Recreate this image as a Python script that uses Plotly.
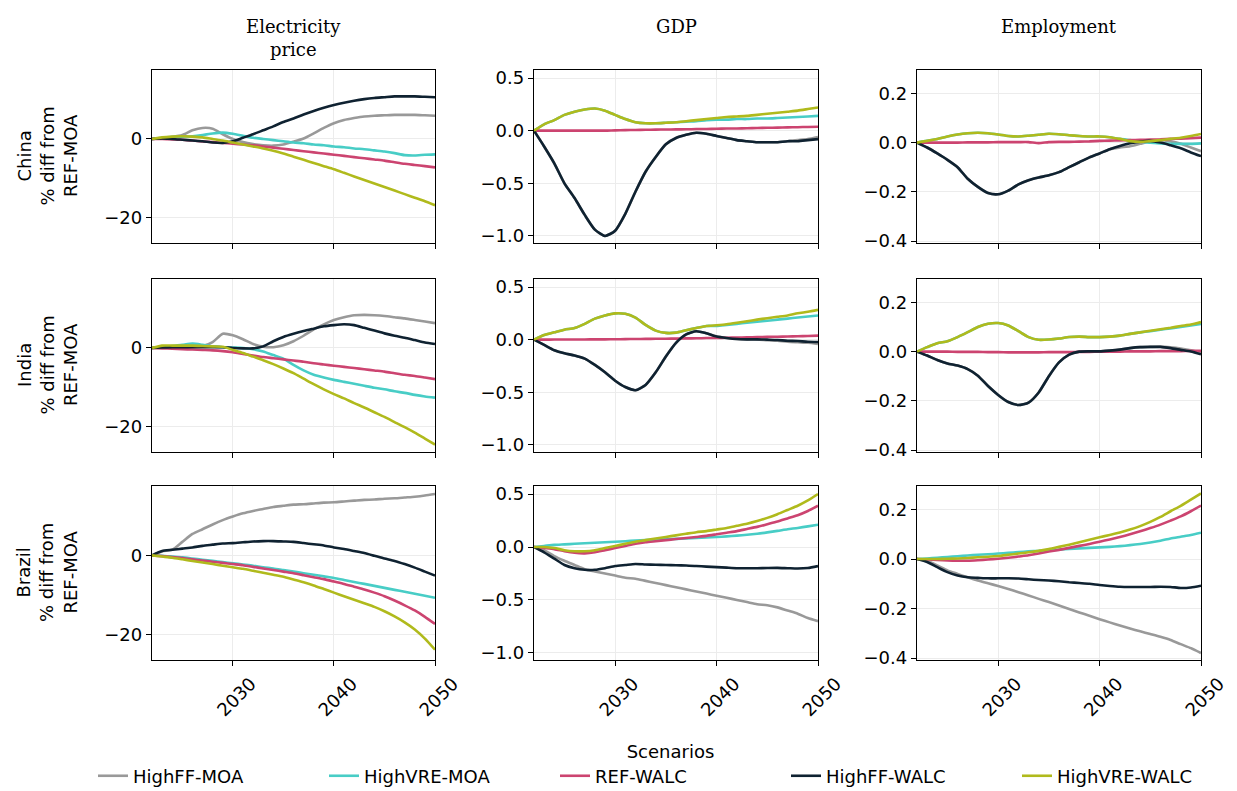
import plotly.graph_objects as go

YEARS = list(range(2022, 2051))
SCENARIOS = ["HighFF-MOA", "HighVRE-MOA", "REF-WALC", "HighFF-WALC", "HighVRE-WALC"]
COLORS = {"HighFF-MOA": "#999999", "HighVRE-MOA": "#48cdc6", "REF-WALC": "#cc4470",
          "HighFF-WALC": "#0f2231", "HighVRE-WALC": "#b0ba1c"}
REGIONS = ["China", "India", "Brazil"]
METRICS = ["Electricity<br>price", "GDP", "Employment"]

# ---------------- China ----------------
china_price = {
    "HighFF-MOA": [0, 0.2, 0.5, 1.0, 2.2, 2.8, 2.6, 1.2, 0.0, -0.8, -1.3, -1.6, -1.7, -1.4, -0.7, 0.1, 1.4, 2.8, 4.0, 4.8, 5.3, 5.7, 5.9, 6.0, 6.1, 6.1, 6.1, 6.0, 5.9],
    "HighVRE-MOA": [0, 0.3, 0.5, 0.6, 0.7, 1.0, 1.4, 1.6, 1.3, 0.8, 0.3, 0.0, -0.3, -0.6, -0.9, -1.1, -1.4, -1.6, -1.9, -2.1, -2.4, -2.6, -2.9, -3.2, -3.6, -4.1, -4.2, -4.0, -3.9],
    "REF-WALC": [0, 0, -0.1, -0.2, -0.4, -0.6, -0.8, -1.0, -1.2, -1.4, -1.6, -1.9, -2.2, -2.5, -2.8, -3.1, -3.4, -3.7, -4.0, -4.3, -4.6, -4.9, -5.2, -5.5, -5.9, -6.3, -6.6, -6.9, -7.2],
    "HighFF-WALC": [0, 0.1, 0, -0.2, -0.4, -0.6, -0.9, -1.0, -0.6, 0.3, 1.2, 2.2, 3.2, 4.3, 5.2, 6.2, 7.1, 7.9, 8.6, 9.2, 9.7, 10.1, 10.4, 10.6, 10.8, 10.8, 10.8, 10.7, 10.6],
    "HighVRE-WALC": [0, 0.4, 0.6, 0.7, 0.6, 0.4, 0.0, -0.4, -0.9, -1.4, -1.9, -2.4, -3.0, -3.7, -4.5, -5.3, -6.1, -6.9, -7.7, -8.6, -9.5, -10.4, -11.3, -12.2, -13.1, -14.0, -14.9, -15.8, -16.8],
}
china_gdp = {
    "HighFF-MOA": [0, -0.15, -0.31, -0.5, -0.64, -0.80, -0.94, -1.0, -0.95, -0.79, -0.58, -0.39, -0.25, -0.13, -0.07, -0.04, -0.02, -0.03, -0.05, -0.07, -0.09, -0.10, -0.11, -0.11, -0.11, -0.10, -0.09, -0.08, -0.06],
    "HighVRE-MOA": [0, 0.06, 0.10, 0.15, 0.18, 0.20, 0.21, 0.19, 0.15, 0.11, 0.08, 0.07, 0.07, 0.075, 0.08, 0.085, 0.09, 0.10, 0.105, 0.105, 0.11, 0.11, 0.115, 0.115, 0.12, 0.125, 0.13, 0.135, 0.14],
    "REF-WALC": [0, 0, 0, 0, 0, 0, 0, 0, 0.003, 0.005, 0.006, 0.008, 0.01, 0.011, 0.012, 0.013, 0.015, 0.016, 0.018, 0.02, 0.021, 0.023, 0.025, 0.027, 0.029, 0.031, 0.033, 0.035, 0.037],
    "HighFF-WALC": [0, -0.15, -0.31, -0.5, -0.64, -0.80, -0.94, -1.0, -0.95, -0.79, -0.58, -0.39, -0.25, -0.13, -0.07, -0.04, -0.02, -0.03, -0.05, -0.07, -0.09, -0.10, -0.11, -0.11, -0.11, -0.10, -0.10, -0.09, -0.08],
    "HighVRE-WALC": [0, 0.06, 0.10, 0.15, 0.18, 0.20, 0.21, 0.19, 0.15, 0.11, 0.08, 0.07, 0.07, 0.075, 0.08, 0.09, 0.10, 0.11, 0.12, 0.13, 0.135, 0.14, 0.15, 0.16, 0.17, 0.18, 0.19, 0.205, 0.22],
}
china_emp = {
    "HighFF-MOA": [0, -0.02, -0.044, -0.07, -0.10, -0.147, -0.18, -0.205, -0.21, -0.195, -0.17, -0.153, -0.142, -0.133, -0.12, -0.10, -0.08, -0.06, -0.044, -0.027, -0.02, -0.015, -0.005, 0.005, 0.01, 0.005, -0.005, -0.02, -0.035],
    "HighVRE-MOA": [0, 0.007, 0.015, 0.025, 0.033, 0.038, 0.04, 0.038, 0.033, 0.027, 0.025, 0.028, 0.032, 0.036, 0.034, 0.03, 0.027, 0.025, 0.025, 0.022, 0.015, 0.01, 0.005, 0.0, -0.003, -0.005, -0.005, -0.005, -0.003],
    "REF-WALC": [0, 0, 0, 0, 0, 0.001, 0.001, 0.001, 0.002, 0.002, 0.002, 0.002, -0.002, 0.002, 0.003, 0.003, 0.004, 0.005, 0.007, 0.008, 0.009, 0.01, 0.011, 0.012, 0.013, 0.015, 0.016, 0.018, 0.02],
    "HighFF-WALC": [0, -0.02, -0.044, -0.07, -0.10, -0.147, -0.18, -0.205, -0.21, -0.195, -0.17, -0.153, -0.142, -0.133, -0.12, -0.10, -0.08, -0.06, -0.044, -0.027, -0.014, -0.003, 0.004, 0.007, 0, -0.011, -0.023, -0.04, -0.055],
    "HighVRE-WALC": [0, 0.007, 0.015, 0.025, 0.033, 0.038, 0.04, 0.038, 0.033, 0.027, 0.025, 0.028, 0.032, 0.036, 0.034, 0.03, 0.027, 0.025, 0.025, 0.022, 0.015, 0.006, 0.003, 0.006, 0.01, 0.015, 0.02, 0.027, 0.035],
}

# ---------------- India ----------------
india_price = {
    "HighFF-MOA": [0, 0.1, 0.2, 0.3, 0.4, 0.5, 1.5, 3.6, 3.2, 2.2, 1.0, 0.3, 0.2, 0.7, 1.7, 3.1, 4.7, 6.0, 7.1, 7.8, 8.3, 8.4, 8.3, 8.1, 7.8, 7.5, 7.1, 6.7, 6.3],
    "HighVRE-MOA": [0, 0.3, 0.5, 0.8, 1.1, 0.8, 0.4, 0.2, 0.1, 0, -0.3, -0.9, -1.8, -2.7, -4.3, -5.7, -6.8, -7.5, -8.1, -8.6, -9.1, -9.6, -10.1, -10.5, -11.0, -11.4, -11.9, -12.3, -12.6],
    "REF-WALC": [0, -0.1, -0.2, -0.3, -0.4, -0.5, -0.6, -0.8, -1.1, -1.5, -1.9, -2.3, -2.6, -2.9, -3.2, -3.5, -3.9, -4.2, -4.5, -4.8, -5.1, -5.4, -5.7, -6.0, -6.4, -6.8, -7.1, -7.5, -7.9],
    "HighFF-WALC": [0, 0.1, 0.2, 0.2, 0.2, 0.2, 0.2, 0.2, 0, -0.1, -0.1, 0.4, 1.7, 2.8, 3.6, 4.3, 4.9, 5.5, 5.8, 6.0, 5.8, 5.1, 4.4, 3.7, 3.1, 2.6, 2.0, 1.4, 1.0],
    "HighVRE-WALC": [0, 0.6, 0.6, 0.6, 0.6, 0.5, 0.4, 0.3, -0.5, -1.3, -2.2, -3.1, -4.1, -5.2, -6.4, -7.8, -9.2, -10.5, -11.7, -12.8, -14.0, -15.1, -16.3, -17.5, -18.8, -20.1, -21.5, -23.0, -24.5],
}
india_gdp = {
    "HighFF-MOA": [0, -0.05, -0.10, -0.13, -0.15, -0.18, -0.24, -0.31, -0.39, -0.45, -0.48, -0.43, -0.31, -0.16, -0.03, 0.05, 0.08, 0.06, 0.03, 0.016, 0.006, 0.003, 0.003, -0.005, -0.01, -0.02, -0.025, -0.03, -0.04],
    "HighVRE-MOA": [0, 0.045, 0.07, 0.095, 0.11, 0.15, 0.2, 0.23, 0.25, 0.245, 0.21, 0.14, 0.086, 0.064, 0.067, 0.09, 0.11, 0.13, 0.13, 0.14, 0.15, 0.16, 0.17, 0.18, 0.19, 0.2, 0.21, 0.22, 0.23],
    "REF-WALC": [0, 0, 0.001, 0.001, 0.002, 0.002, 0.003, 0.003, 0.004, 0.005, 0.006, 0.007, 0.008, 0.009, 0.01, 0.012, 0.013, 0.015, 0.016, 0.018, 0.02, 0.022, 0.024, 0.026, 0.028, 0.03, 0.032, 0.035, 0.038],
    "HighFF-WALC": [0, -0.05, -0.10, -0.13, -0.15, -0.18, -0.24, -0.31, -0.39, -0.45, -0.48, -0.43, -0.31, -0.16, -0.03, 0.05, 0.08, 0.06, 0.03, 0.016, 0.006, 0.003, 0.003, 0, -0.003, -0.01, -0.013, -0.02, -0.022],
    "HighVRE-WALC": [0, 0.045, 0.07, 0.095, 0.11, 0.15, 0.2, 0.23, 0.25, 0.245, 0.21, 0.14, 0.086, 0.064, 0.067, 0.09, 0.11, 0.13, 0.137, 0.146, 0.16, 0.175, 0.19, 0.204, 0.217, 0.23, 0.25, 0.265, 0.283],
}
india_emp = {
    "HighFF-MOA": [0, -0.016, -0.034, -0.048, -0.057, -0.071, -0.098, -0.14, -0.176, -0.205, -0.217, -0.207, -0.166, -0.10, -0.044, -0.012, 0, 0.001, 0.001, 0.004, 0.008, 0.014, 0.018, 0.019, 0.02, 0.017, 0.012, 0.005, -0.005],
    "HighVRE-MOA": [0, 0.018, 0.034, 0.042, 0.059, 0.079, 0.1, 0.113, 0.116, 0.106, 0.083, 0.059, 0.048, 0.049, 0.053, 0.059, 0.061, 0.059, 0.059, 0.061, 0.065, 0.072, 0.078, 0.083, 0.089, 0.094, 0.1, 0.106, 0.112],
    "REF-WALC": [0, 0, 0, 0, -0.001, -0.001, -0.001, -0.002, -0.002, -0.003, -0.003, -0.003, -0.003, -0.002, -0.002, -0.002, -0.001, -0.001, 0, 0, 0, 0.001, 0.001, 0.001, 0.002, 0.002, 0.002, 0.003, 0.003],
    "HighFF-WALC": [0, -0.016, -0.034, -0.048, -0.057, -0.071, -0.098, -0.14, -0.176, -0.205, -0.217, -0.207, -0.166, -0.10, -0.044, -0.012, 0, 0.001, 0.001, 0.004, 0.008, 0.014, 0.018, 0.019, 0.019, 0.014, 0.007, 0, -0.011],
    "HighVRE-WALC": [0, 0.018, 0.034, 0.042, 0.059, 0.079, 0.1, 0.113, 0.116, 0.106, 0.083, 0.059, 0.048, 0.049, 0.053, 0.059, 0.061, 0.059, 0.059, 0.061, 0.065, 0.072, 0.078, 0.085, 0.091, 0.097, 0.104, 0.11, 0.12],
}

# ---------------- Brazil ----------------
brazil_price = {
    "HighFF-MOA": [0, 1.0, 1.4, 3.4, 5.4, 6.6, 7.8, 8.9, 9.8, 10.6, 11.2, 11.7, 12.2, 12.5, 12.8, 12.9, 13.1, 13.3, 13.4, 13.6, 13.8, 14.0, 14.1, 14.3, 14.4, 14.6, 14.8, 15.1, 15.5],
    "HighVRE-MOA": [0, -0.1, -0.3, -0.5, -0.8, -1.1, -1.4, -1.7, -2.0, -2.3, -2.6, -3.0, -3.3, -3.7, -4.1, -4.5, -4.9, -5.3, -5.7, -6.2, -6.7, -7.2, -7.7, -8.2, -8.7, -9.2, -9.7, -10.2, -10.7],
    "REF-WALC": [0, -0.2, -0.4, -0.7, -1.0, -1.3, -1.6, -1.9, -2.2, -2.5, -2.9, -3.3, -3.7, -4.1, -4.5, -5.0, -5.5, -6.0, -6.6, -7.2, -7.9, -8.6, -9.4, -10.3, -11.4, -12.6, -13.9, -15.5, -17.3],
    "HighFF-WALC": [0, 1.1, 1.4, 1.7, 2.0, 2.4, 2.7, 3.0, 3.1, 3.3, 3.5, 3.6, 3.6, 3.5, 3.4, 3.1, 2.8, 2.5, 2.0, 1.6, 1.1, 0.6, -0.1, -0.8, -1.4, -2.2, -3.1, -4.1, -5.1],
    "HighVRE-WALC": [0, -0.3, -0.6, -1.0, -1.4, -1.8, -2.2, -2.6, -3.0, -3.4, -3.9, -4.4, -4.9, -5.4, -6.1, -6.8, -7.6, -8.5, -9.4, -10.3, -11.2, -12.1, -13.0, -14.1, -15.4, -16.9, -18.7, -21.0, -23.8],
}
brazil_gdp = {
    "HighFF-MOA": [0, -0.03, -0.086, -0.13, -0.17, -0.21, -0.23, -0.25, -0.27, -0.29, -0.30, -0.32, -0.34, -0.36, -0.38, -0.40, -0.42, -0.44, -0.46, -0.48, -0.50, -0.52, -0.54, -0.55, -0.57, -0.60, -0.63, -0.67, -0.70],
    "HighVRE-MOA": [0, 0.01, 0.02, 0.025, 0.03, 0.035, 0.04, 0.045, 0.05, 0.055, 0.06, 0.065, 0.07, 0.073, 0.077, 0.08, 0.085, 0.09, 0.095, 0.1, 0.107, 0.115, 0.125, 0.138, 0.152, 0.168, 0.18, 0.195, 0.21],
    "REF-WALC": [0, -0.01, -0.02, -0.04, -0.055, -0.06, -0.05, -0.03, -0.01, 0.01, 0.03, 0.045, 0.055, 0.065, 0.075, 0.085, 0.095, 0.105, 0.12, 0.135, 0.15, 0.17, 0.19, 0.215, 0.24, 0.27, 0.3, 0.34, 0.39],
    "HighFF-WALC": [0, -0.05, -0.11, -0.17, -0.2, -0.215, -0.215, -0.2, -0.18, -0.17, -0.16, -0.165, -0.168, -0.17, -0.173, -0.175, -0.18, -0.185, -0.19, -0.195, -0.2, -0.2, -0.2, -0.198, -0.197, -0.2, -0.203, -0.198, -0.18],
    "HighVRE-WALC": [0, 0, -0.01, -0.03, -0.04, -0.04, -0.03, -0.01, 0.01, 0.03, 0.05, 0.065, 0.08, 0.095, 0.11, 0.125, 0.14, 0.15, 0.165, 0.18, 0.2, 0.22, 0.245, 0.275, 0.31, 0.35, 0.39, 0.44, 0.5],
}
brazil_emp = {
    "HighFF-MOA": [0, -0.008, -0.026, -0.046, -0.06, -0.074, -0.087, -0.098, -0.109, -0.121, -0.134, -0.147, -0.161, -0.174, -0.188, -0.202, -0.216, -0.229, -0.243, -0.256, -0.269, -0.281, -0.292, -0.303, -0.314, -0.327, -0.344, -0.36, -0.38],
    "HighVRE-MOA": [0, 0.002, 0.005, 0.008, 0.011, 0.014, 0.017, 0.019, 0.022, 0.025, 0.028, 0.031, 0.033, 0.036, 0.038, 0.041, 0.043, 0.045, 0.047, 0.049, 0.052, 0.056, 0.061, 0.067, 0.074, 0.083, 0.09, 0.097, 0.106],
    "REF-WALC": [0, -0.002, -0.004, -0.006, -0.007, -0.007, -0.005, -0.002, 0.001, 0.005, 0.01, 0.015, 0.022, 0.03, 0.037, 0.045, 0.053, 0.061, 0.07, 0.079, 0.089, 0.1, 0.112, 0.125, 0.139, 0.155, 0.172, 0.193, 0.216],
    "HighFF-WALC": [0, -0.012, -0.033, -0.053, -0.067, -0.074, -0.076, -0.078, -0.078, -0.078, -0.079, -0.082, -0.085, -0.087, -0.09, -0.094, -0.097, -0.1, -0.105, -0.109, -0.112, -0.113, -0.113, -0.113, -0.112, -0.113, -0.117, -0.115, -0.108],
    "HighVRE-WALC": [0, 0, 0, 0.001, 0.002, 0.004, 0.007, 0.009, 0.012, 0.017, 0.022, 0.027, 0.033, 0.04, 0.049, 0.058, 0.068, 0.078, 0.088, 0.097, 0.107, 0.119, 0.133, 0.15, 0.17, 0.193, 0.215, 0.24, 0.265],
}

PANELS = [[china_price, china_gdp, china_emp],
          [india_price, india_gdp, india_emp],
          [brazil_price, brazil_gdp, brazil_emp]]

Y_RANGES = [[-26.4, 17.5], [-1.067, 0.576], [-0.408, 0.295]]
Y_DTICK = [20, 0.5, 0.2]
Y_FMT = ["d", ".1f", ".1f"]
X_TICKS = [2030, 2040, 2050]

W, H = 1237, 791
COL_PX = [(152, 435), (534, 818), (917, 1201)]
ROW_PX = [(70, 243), (279, 452), (486, 660)]

FONT = "DejaVu Sans"
fig = go.Figure()
layout = dict(width=W, height=H, margin=dict(l=0, r=0, t=0, b=0, autoexpand=False),
              paper_bgcolor="white", plot_bgcolor="white",
              font=dict(family=FONT, size=18, color="black"))

annotations = []
for r in range(3):
    for c in range(3):
        k = r * 3 + c + 1
        xa = "xaxis" if k == 1 else f"xaxis{k}"
        ya = "yaxis" if k == 1 else f"yaxis{k}"
        xr = "x" if k == 1 else f"x{k}"
        yr = "y" if k == 1 else f"y{k}"
        data = PANELS[r][c]
        for s in SCENARIOS:
            fig.add_trace(go.Scatter(
                x=YEARS, y=data[s], mode="lines", name=s,
                line=dict(color=COLORS[s], width=2.6, shape="spline", smoothing=0.6),
                xaxis=xr, yaxis=yr, legendgroup=s,
                showlegend=(k == 1)))
        x0, x1 = COL_PX[c]
        t, b = ROW_PX[r]
        layout[xa] = dict(
            domain=[x0 / W, x1 / W], anchor=yr, range=[2022, 2050],
            tickvals=X_TICKS, ticktext=[str(v) for v in X_TICKS],
            showticklabels=(r == 2), tickangle=-45, ticklabelshift=18,
            ticks="outside", ticklen=5, tickwidth=1.2, tickcolor="black",
            showline=True, linecolor="black", linewidth=1.4, mirror=True,
            showgrid=True, gridcolor="#ececec", gridwidth=1, zeroline=False,
            automargin=False,
            tickfont=dict(family=FONT, size=18, color="black"))
        layout[ya] = dict(
            domain=[1 - b / H, 1 - t / H], anchor=xr, range=Y_RANGES[c],
            dtick=Y_DTICK[c], tick0=0, tickformat=Y_FMT[c],
            ticks="outside", ticklen=5, tickwidth=1.2, tickcolor="black",
            showline=True, linecolor="black", linewidth=1.4, mirror=True,
            showgrid=True, gridcolor="#ececec", gridwidth=1, zeroline=False,
            automargin=False,
            tickfont=dict(family=FONT, size=18, color="black"))

# column titles
for c in range(3):
    x0, x1 = COL_PX[c]
    annotations.append(dict(text=METRICS[c], x=(x0 + x1) / 2 / W, y=1 - 14 / H,
                            xref="paper", yref="paper", xanchor="center", yanchor="top",
                            showarrow=False,
                            font=dict(family="DejaVu Serif", size=18, color="black")))
# row labels
for r in range(3):
    t, b = ROW_PX[r]
    annotations.append(dict(text=f"{REGIONS[r]}<br>% diff from<br>REF-MOA",
                            x=47 / W, y=1 - (t + b) / 2 / H, xref="paper", yref="paper",
                            xanchor="center", yanchor="middle", textangle=-90,
                            showarrow=False, font=dict(family=FONT, size=18, color="black")))

layout["annotations"] = annotations
layout["legend"] = dict(orientation="h", x=0.5 + 52 / W, xanchor="center", y=-0.004, yanchor="bottom",
                        entrywidth=186, entrywidthmode="pixels",
                        title=dict(text="Scenarios", side="top center",
                                   font=dict(family=FONT, size=18)),
                        font=dict(family=FONT, size=18, color="black"),
                        bgcolor="rgba(0,0,0,0)", tracegroupgap=0)
fig.update_layout(**layout)
fig.write_html("out.html")
